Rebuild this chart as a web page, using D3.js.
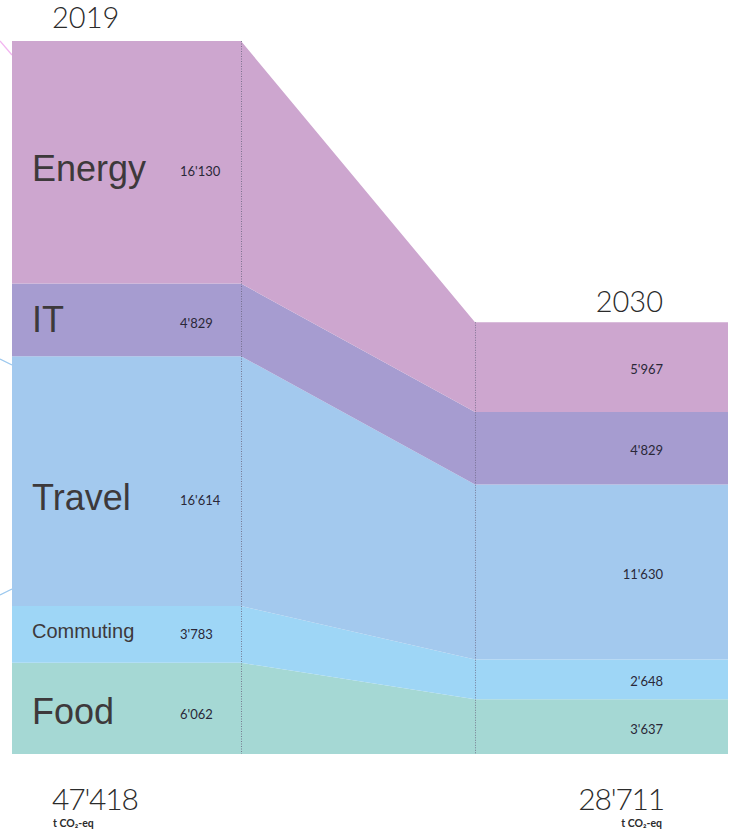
<!DOCTYPE html>
<html>
<head>
<meta charset="utf-8">
<script src="https://cdn.jsdelivr.net/npm/d3@7"></script>
<style>
  html, body { margin: 0; padding: 0; background: #ffffff; }
  svg { display: block; }
</style>
</head>
<body>
<svg id="chart" width="731" height="829"></svg>
<script>
// Emissions by category, t CO2-eq
const years = ["2019", "2030"];
const categories = ["Energy", "IT", "Travel", "Commuting", "Food"];
const values2019 = [16130, 4829, 16614, 3783, 6062];
const values2030 = [5967, 4829, 11630, 2648, 3637];
const valueLabels2019 = ["16'130", "4'829", "16'614", "3'783", "6'062"];
const valueLabels2030 = ["5'967", "4'829", "11'630", "2'648", "3'637"];
const totalLabels = ["47'418", "28'711"];
const unitLabel = "t CO₂-eq";

const colors = {
  Energy: "#cda6cf",
  IT: "#a69cd0",
  Travel: "#a3c9ee",
  Commuting: "#9ed6f6",
  Food: "#a5d8d4"
};

const svg = d3.select("#chart");

// Column layout: each year is a flat block, joined by a sloped transition
const col2019 = [12, 241];
const col2030 = [475, 728];
const baseY = 754, topY = 41;

const total2019 = d3.sum(values2019);
const total2030 = d3.sum(values2030);

const y = d3.scaleLinear().domain([0, total2019]).range([baseY, topY]);

// Rows: one per x position, stacked from the bottom (Food) to the top (Energy)
const stackKeys = categories.slice().reverse();
const rowFor = (vals, x) => {
  const r = { x };
  categories.forEach((c, i) => r[c] = vals[i]);
  return r;
};
const rows = [
  rowFor(values2019, col2019[0]),
  rowFor(values2019, col2019[1]),
  rowFor(values2030, col2030[0]),
  rowFor(values2030, col2030[1])
];

const series = d3.stack().keys(stackKeys)(rows);

const area = d3.area()
  .x(d => d.data.x)
  .y0(d => y(d[0]))
  .y1(d => y(d[1]))
  .curve(d3.curveLinear);

// faint decorative strokes peeking out at the left edge
const deco = svg.append("g").attr("fill", "none").attr("stroke-width", 1.3);
deco.append("line").attr("x1", 0).attr("y1", 41).attr("x2", 12).attr("y2", 55).attr("stroke", "#f2b6f0");
deco.append("line").attr("x1", 0).attr("y1", 359).attr("x2", 12).attr("y2", 365).attr("stroke", "#9cc8ee");
deco.append("line").attr("x1", 0).attr("y1", 595).attr("x2", 12).attr("y2", 589).attr("stroke", "#9cc8ee");

svg.append("g")
  .selectAll("path")
  .data(series)
  .join("path")
  .attr("d", area)
  .attr("fill", d => colors[d.key]);

// dotted guides at the inner edges of the two year blocks
const guides = [
  { x: col2019[1], top: y(total2019) },
  { x: col2030[0], top: y(total2030) }
];
svg.append("g")
  .selectAll("line")
  .data(guides)
  .join("line")
  .attr("x1", d => d.x + 0.5).attr("x2", d => d.x + 0.5)
  .attr("y1", d => d.top).attr("y2", baseY)
  .attr("stroke", "#6b6680")
  .attr("stroke-width", 1)
  .attr("stroke-dasharray", "1,1.5")
  .attr("opacity", 0.8);

// band midpoints per year
const mids = yearIdx => {
  const out = {};
  series.forEach(s => {
    const d = s[yearIdx === 0 ? 0 : 2];
    out[s.key] = (y(d[0]) + y(d[1])) / 2;
  });
  return out;
};
const mid2019 = mids(0);
const mid2030 = mids(1);

// category names in the 2019 block
const nameStyle = {
  Energy: { size: 36, dy: 6 },
  IT: { size: 36, dy: 0 },
  Travel: { size: 36, dy: 16 },
  Commuting: { size: 20, dy: -3 },
  Food: { size: 36, dy: 3 }
};
const labelFont = "'Liberation Sans', Arial, sans-serif";
const numFont = "'Lato', 'Open Sans', sans-serif";

const names = svg.append("g").attr("fill", "#3d393b").attr("font-family", labelFont);
categories.forEach(c => {
  names.append("text")
    .attr("x", 32)
    .attr("y", mid2019[c] + nameStyle[c].dy)
    .attr("dominant-baseline", "central")
    .attr("font-size", nameStyle[c].size)
    .text(c);
});

const vals = svg.append("g").attr("fill", "#2a2838").attr("font-family", numFont).attr("font-size", 13);
categories.forEach((c, i) => {
  vals.append("text")
    .attr("x", 180)
    .attr("y", mid2019[c] + nameStyle[c].dy + 3)
    .attr("dominant-baseline", "central")
    .text(valueLabels2019[i]);
  vals.append("text")
    .attr("x", 663)
    .attr("y", mid2030[c] + 2)
    .attr("text-anchor", "end")
    .attr("dominant-baseline", "central")
    .text(valueLabels2030[i]);
});

// year headings
const head = svg.append("g").attr("fill", "#2b2b2b").attr("font-family", numFont)
  .attr("font-weight", 300).attr("font-size", 29);
head.append("text").attr("x", 52).attr("y", y(total2019) - 13).text(years[0]);
head.append("text").attr("x", 663).attr("y", y(total2030) - 10).attr("text-anchor", "end").text(years[1]);

// totals with unit
const tot = svg.append("g").attr("fill", "#2b2b2b").attr("font-family", numFont);
tot.append("text").attr("x", 52).attr("y", 810).attr("font-weight", 300).attr("font-size", 30)
  .attr("letter-spacing", -1.2).text(totalLabels[0]);
tot.append("text").attr("x", 53).attr("y", 827).attr("font-weight", 700).attr("font-size", 10.5).text(unitLabel);
tot.append("text").attr("x", 664).attr("y", 810).attr("text-anchor", "end").attr("font-weight", 300).attr("font-size", 30)
  .attr("letter-spacing", -1.2).text(totalLabels[1]);
tot.append("text").attr("x", 662).attr("y", 827).attr("text-anchor", "end").attr("font-weight", 700).attr("font-size", 10.5).text(unitLabel);
</script>
</body>
</html>
